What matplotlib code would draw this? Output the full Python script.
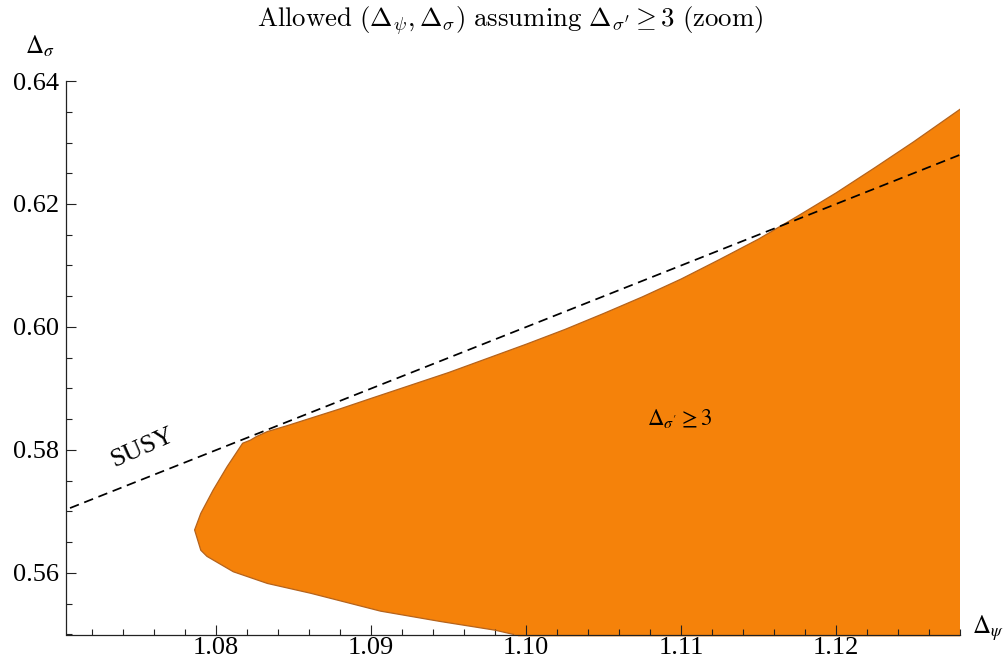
import matplotlib
matplotlib.use("Agg")
import matplotlib.pyplot as plt
from matplotlib.ticker import MultipleLocator, FormatStrFormatter

# upper edge of the allowed region (right -> left, ends at the corner near SUSY line)
upper_x = [1.1280, 1.1250, 1.1225, 1.1200, 1.1175, 1.1150, 1.1125, 1.1100, 1.1075, 1.1050, 1.1025,
           1.1000, 1.0975, 1.0950, 1.0925, 1.0900, 1.0880, 1.0860, 1.0845, 1.0833, 1.0826, 1.0822]
upper_y = [0.6354, 0.6301, 0.6259, 0.6218, 0.6180, 0.6143, 0.6110, 0.6078, 0.6049, 0.6022, 0.5996,
           0.5972, 0.5949, 0.5926, 0.5905, 0.5884, 0.5867, 0.5851, 0.5839, 0.5830, 0.5822, 0.5816]

# left "nose" and lower edge (corner -> down to the bottom of the plot)
lower_x = [1.0817, 1.0807, 1.0798, 1.0790, 1.0786, 1.0790, 1.0794, 1.0811, 1.0833, 1.0861, 1.0906, 1.0945, 1.0980, 1.0992]
lower_y = [0.5811, 0.5773, 0.5735, 0.5697, 0.5670, 0.5637, 0.5627, 0.5602, 0.5583, 0.5567, 0.5538, 0.5521, 0.5507, 0.5500]

# SUSY line  Delta_sigma = Delta_psi - 1/2
susy_x = [1.065, 1.135]
susy_y = [0.565, 0.635]

x_range = (1.0703, 1.128)
y_range = (0.55, 0.64)
y_floor = 0.5497

fill_col = '#F5820A'
edge_col = '#B5631C'

fig = plt.figure(figsize=(10.04, 6.61), dpi=100)
ax = fig.add_axes([66/1004, (661-634.5)/661, (960-66)/1004, (634.5-81)/661])

# region
bx = upper_x + lower_x
by = upper_y + lower_y
ax.fill(bx + [lower_x[-1] + 0.0003, x_range[1]], by + [y_floor, y_floor],
        color=fill_col, lw=0, clip_on=False, zorder=1)
ax.plot(bx, by, color=edge_col, lw=0.9, zorder=2, solid_joinstyle='round')

# SUSY line
ax.plot(susy_x, susy_y, color='black', lw=1.25, dashes=(5.5, 3.3), zorder=3)

ax.set_xlim(*x_range)
ax.set_ylim(*y_range)

for s in ['top', 'right']:
    ax.spines[s].set_visible(False)
for s in ['left', 'bottom']:
    ax.spines[s].set_color('#222222')
    ax.spines[s].set_linewidth(0.9)

ax.xaxis.set_major_locator(MultipleLocator(0.01))
ax.xaxis.set_minor_locator(MultipleLocator(0.002))
ax.yaxis.set_major_locator(MultipleLocator(0.02))
ax.yaxis.set_minor_locator(MultipleLocator(0.005))
ax.xaxis.set_major_formatter(FormatStrFormatter('%.2f'))
ax.yaxis.set_major_formatter(FormatStrFormatter('%.2f'))
ax.tick_params(which='both', direction='in', color='#222222', width=0.8)
ax.tick_params(which='major', length=7)
ax.tick_params(which='minor', length=4)
ax.tick_params(axis='x', pad=2)
ax.tick_params(axis='y', pad=5)
for lab in ax.get_xticklabels() + ax.get_yticklabels():
    lab.set_fontfamily('Liberation Serif')
    lab.set_fontsize(19)

# labels
ax.text(1.07523, 0.58033, 'SUSY', rotation=24, ha='center', va='center',
        fontsize=19, family='Liberation Serif')
ax.text(1.1099, 0.5852, r"$\Delta_{\sigma'}{\geq}3$", ha='center', va='center',
        fontsize=16.5, math_fontfamily='stix')

fig.text(988/1004, 1-628/661, r'$\Delta_\psi$', ha='center', va='center',
         fontsize=18, math_fontfamily='stix')
fig.text(40/1004, 1-46/661, r'$\Delta_\sigma$', ha='center', va='center',
         fontsize=18, math_fontfamily='stix')

fig.text(510/1004, 1-21/661,
         r"$\mathrm{Allowed}\ (\Delta_\psi, \Delta_\sigma)\ \mathrm{assuming}\ \Delta_{\sigma'} \geq 3\ \mathrm{(zoom)}$",
         ha='center', va='center', fontsize=19.3, math_fontfamily='cm')

fig.savefig('out.png', dpi=100)
